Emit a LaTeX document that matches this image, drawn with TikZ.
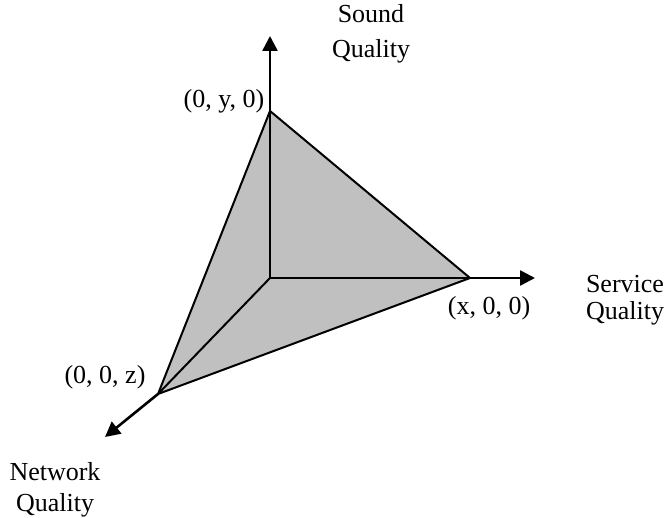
\documentclass[tikz,border=0pt]{standalone}
\usepackage{fontspec}
\setmainfont{Liberation Serif}
\usetikzlibrary{arrows.meta}
\begin{document}
\begin{tikzpicture}[x=1pt,y=-1pt,
  axis/.style={line width=2.6pt,-{Triangle[length=15pt,width=15pt]}},
  edge/.style={line width=2pt,line join=miter},
  lbl/.style={font=\fontsize{26}{31}\selectfont,align=center,inner sep=0pt}]
\useasboundingbox (0,0) rectangle (668,518);
\coordinate (O) at (270,278);
\coordinate (Y) at (270,111);
\coordinate (X) at (470,278);
\coordinate (Z) at (158,394);
\coordinate (Ytip) at (270,36);
\coordinate (Xtip) at (535,278);
\coordinate (Ztip) at (105,437);
\fill[fill={rgb,255:red,192;green,192;blue,192}] (Y) -- (X) -- (Z) -- cycle;
\draw[edge] (Y) -- (X) -- (Z) -- cycle;
\draw[edge] (O) -- (Z);
\draw[axis] (O) -- (Ytip);
\draw[axis] (O) -- (Xtip);
\draw[axis] (Z) -- (Ztip);
\node[lbl,font=\fontsize{26}{35}\selectfont] (ls) at (371,34) {Sound\\Quality};
\node[lbl,font=\fontsize{26}{27}\selectfont] (lsv) at (625,300) {Service\\Quality};
\node[lbl] (ln) at (55,490) {Network\\Quality};
\node[lbl] (ly) at (224,101) {(0, y, 0)};
\node[lbl] (lx) at (489,308) {(x, 0, 0)};
\node[lbl] (lz) at (105,377) {(0, 0, z)};
\end{tikzpicture}
\end{document}
